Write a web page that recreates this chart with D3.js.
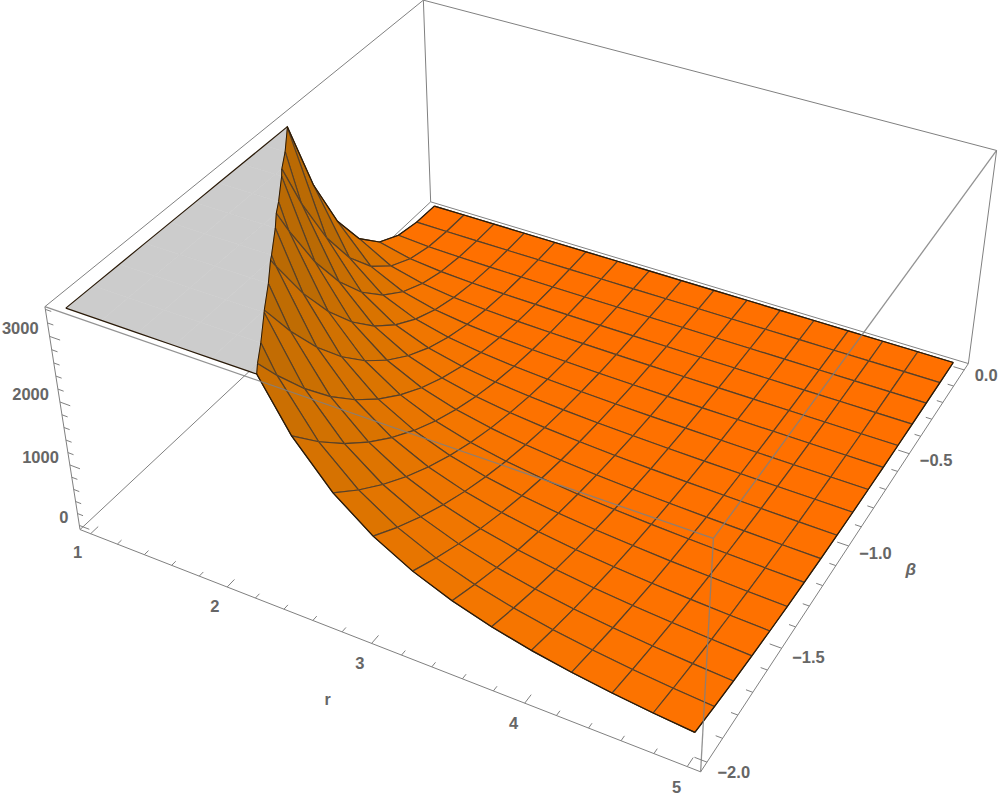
<!DOCTYPE html>
<html>
<head>
<meta charset="utf-8">
<script src="https://cdnjs.cloudflare.com/ajax/libs/d3/7.8.5/d3.min.js"></script>
<style>
  body { margin: 0; background: #fff; }
  text { font-family: "Liberation Sans", Arial, sans-serif; font-weight: bold; font-size: 16.5px; fill: #666; }
</style>
</head>
<body>
<script>
var svgWidth = 1000;
var svgHeight = 801;

// mesh positions
var rValues = [1, 1.25, 1.5, 1.75, 2, 2.25, 2.5, 2.75, 3, 3.25, 3.5, 3.75, 4, 4.25, 4.5, 4.75, 5];
var betaValues = [0, -0.125, -0.25, -0.375, -0.5, -0.625, -0.75, -0.875, -1, -1.125, -1.25, -1.375, -1.5, -1.625, -1.75, -1.875, -2];

// surface height, one row per beta, one column per r
var zValues = [
  [0, 0, 0, 0, 0, 0, 0, 0, 0, 0, 0, 0, 0, 0, 0, 0, 0],
  [10, 5, 3, 2, 1, 1, 1, 0, 0, 0, 0, 0, 0, 0, 0, 0, 0],
  [80, 41, 24, 15, 10, 7, 5, 4, 3, 2, 2, 1, 1, 1, 1, 1, 1],
  [269, 138, 80, 50, 33, 24, 18, 13, 10, 8, 6, 5, 4, 3, 3, 2, 2],
  [639, 328, 190, 119, 80, 56, 41, 30, 24, 19, 15, 13, 10, 8, 7, 6, 5],
  [1249, 640, 371, 233, 157, 110, 80, 61, 46, 37, 29, 24, 20, 17, 14, 11, 10],
  [2158, 1105, 640, 403, 269, 189, 138, 103, 80, 63, 50, 41, 33, 28, 24, 20, 18],
  [3427, 1755, 1016, 640, 428, 301, 219, 165, 127, 100, 80, 65, 53, 45, 38, 32, 27],
  [5116, 2619, 1516, 954, 639, 449, 328, 246, 189, 149, 119, 97, 80, 67, 56, 48, 41],
  [7284, 3729, 2158, 1359, 910, 639, 467, 350, 269, 212, 170, 138, 114, 95, 80, 68, 58],
  [9991, 5116, 2961, 1865, 1249, 877, 640, 480, 370, 291, 233, 190, 157, 131, 110, 93, 80],
  [13298, 6809, 3941, 2482, 1662, 1167, 851, 639, 493, 387, 310, 253, 208, 173, 146, 124, 106],
  [17265, 8840, 5117, 3222, 2158, 1516, 1105, 830, 639, 503, 403, 328, 269, 224, 189, 161, 138],
  [21950, 11239, 6505, 4097, 2744, 1926, 1405, 1055, 813, 640, 512, 417, 342, 286, 241, 205, 175],
  [27415, 14038, 8124, 5117, 3426, 2406, 1755, 1318, 1015, 799, 639, 520, 428, 357, 301, 256, 219],
  [33720, 17266, 9993, 6293, 4215, 2960, 2158, 1621, 1249, 982, 786, 640, 527, 440, 370, 314, 270],
  [40924, 20953, 12127, 7637, 5115, 3592, 2619, 1967, 1516, 1192, 954, 776, 639, 533, 449, 382, 328]
];

var rTicks = [1, 2, 3, 4, 5];
var betaTicks = [0, -0.5, -1, -1.5, -2];
var zTicks = [0, 1000, 2000, 3000];
var zClip = 3370;

// plot box, 2% padding around the data
var rScale = d3.scaleLinear().domain([0.92, 5.08]).range([0, 1]);
var betaScale = d3.scaleLinear().domain([-2.04, 0.04]).range([0, 1]);
var zScale = d3.scaleLinear().domain([-70, 3440]).range([0, 1]);

// where the box corners land on the page: u, v, w -> x, y
var boxCorners = [
  [0, 0, 0, 80, 529.5], [1, 0, 0, 700.7, 772], [1, 1, 0, 968.3, 363.3], [0, 1, 0, 430.7, 202],
  [0, 0, 1, 45, 306.7], [1, 0, 1, 713.3, 538.3], [1, 1, 1, 996.7, 150.7], [0, 1, 1, 423.3, 0]
];

// fit a perspective camera to the corners (least squares, 11 unknowns)
function fitCamera(corners) {
  var rows = [];
  var rhs = [];
  corners.forEach(function(c) {
    rows.push([c[0], c[1], c[2], 1, 0, 0, 0, 0, -c[3] * c[0], -c[3] * c[1], -c[3] * c[2]]);
    rhs.push(c[3]);
    rows.push([0, 0, 0, 0, c[0], c[1], c[2], 1, -c[4] * c[0], -c[4] * c[1], -c[4] * c[2]]);
    rhs.push(c[4]);
  });
  var n = 11;
  var m = d3.range(n).map(function(i) {
    var row = d3.range(n).map(function(j) { return d3.sum(rows, function(r) { return r[i] * r[j]; }); });
    row.push(d3.sum(rows, function(r, idx) { return r[i] * rhs[idx]; }));
    return row;
  });
  for (var i = 0; i < n; i++) {
    var piv = i;
    for (var k = i + 1; k < n; k++) if (Math.abs(m[k][i]) > Math.abs(m[piv][i])) piv = k;
    var tmp = m[i]; m[i] = m[piv]; m[piv] = tmp;
    for (var k2 = 0; k2 < n; k2++) {
      if (k2 === i) continue;
      var f = m[k2][i] / m[i][i];
      for (var j = i; j <= n; j++) m[k2][j] -= f * m[i][j];
    }
  }
  return d3.range(n).map(function(i) { return m[i][n] / m[i][i]; });
}

var cam = fitCamera(boxCorners);

function projectUnit(u, v, w) {
  var d = cam[8] * u + cam[9] * v + cam[10] * w + 1;
  return [(cam[0] * u + cam[1] * v + cam[2] * w + cam[3]) / d,
          (cam[4] * u + cam[5] * v + cam[6] * w + cam[7]) / d];
}

// p = [r, beta, z]
function project(p) {
  return projectUnit(rScale(p[0]), betaScale(p[1]), zScale(p[2]));
}

var line3 = d3.line();
function pathOf(pts, closed) {
  return line3(pts.map(project)) + (closed ? "Z" : "");
}

var svg = d3.select("body").append("svg")
  .attr("width", svgWidth)
  .attr("height", svgHeight);

var boxColor = "#808080";

function boxEdge(group, a, b, opacity, width) {
  var p = projectUnit(a[0], a[1], a[2]);
  var q = projectUnit(b[0], b[1], b[2]);
  group.append("line")
    .attr("x1", p[0]).attr("y1", p[1])
    .attr("x2", q[0]).attr("y2", q[1])
    .attr("stroke", boxColor)
    .attr("stroke-width", width)
    .attr("opacity", opacity);
}

// back edges go under the surface
var backGroup = svg.append("g");
boxEdge(backGroup, [0, 0, 0], [0, 1, 0], 1, 1);
boxEdge(backGroup, [0, 1, 0], [1, 1, 0], 1, 1);
boxEdge(backGroup, [0, 1, 0], [0, 1, 1], 1, 1);
boxEdge(backGroup, [0, 1, 1], [1, 1, 1], 1, 1);
boxEdge(backGroup, [0, 1, 1], [0, 0, 1], 1, 1);
boxEdge(backGroup, [1, 1, 1], [1, 1, 0], 1, 1);
boxEdge(backGroup, [0, 0, 0], [0, 0, 1], 1, 1);
boxEdge(backGroup, [0, 0, 0], [1, 0, 0], 1, 1);
boxEdge(backGroup, [1, 0, 0], [1, 1, 0], 1, 1);

// point where an edge crosses the clip plane, the surface is closer to
// log-linear than linear along a mesh edge
function crossing(p, q) {
  var t = Math.log(zClip / p[2]) / Math.log(q[2] / p[2]);
  return [p[0] + t * (q[0] - p[0]), p[1] + t * (q[1] - p[1]), zClip];
}

// keep the part of a polygon on one side of the clip plane
function clipPolygon(pts, keepBelow) {
  var out = [];
  pts.forEach(function(p, i) {
    var q = pts[(i + 1) % pts.length];
    var pIn = keepBelow ? p[2] <= zClip : p[2] >= zClip;
    var qIn = keepBelow ? q[2] <= zClip : q[2] >= zClip;
    if (pIn) out.push(p);
    if (pIn !== qIn) out.push(crossing(p, q));
  });
  return out;
}

function clipSegment(p, q) {
  if (p[2] > zClip && q[2] > zClip) return null;
  if (p[2] <= zClip && q[2] <= zClip) return [p, q];
  var c = crossing(p, q);
  return p[2] <= zClip ? [p, c] : [c, q];
}

var shade = d3.scaleLinear()
  .domain([0, 0.15, 0.4, 1, 3])
  .range(["#ff7000", "#fd7200", "#f47600", "#dc7400", "#ba6a04"])
  .clamp(true);

function cellSlope(j, k) {
  var z00 = zValues[k][j], z01 = zValues[k][j + 1], z10 = zValues[k + 1][j], z11 = zValues[k + 1][j + 1];
  var du = rScale(rValues[j + 1]) - rScale(rValues[j]);
  var dv = betaScale(betaValues[k]) - betaScale(betaValues[k + 1]);
  var sr = 0.4 * (zScale(z00 + z10) - zScale(z01 + z11)) / 2 / du;
  var sb = 0.4 * (zScale(z10 + z11) - zScale(z00 + z01)) / 2 / dv;
  return Math.sqrt(sr * sr + sb * sb);
}

var meshColor = "#55402a";
var edgeColor = "#2a1a08";

var topGroup = svg.append("g");
var cellGroup = svg.append("g");

// far corner first, near corner last
d3.range(rValues.length - 1).forEach(function(j) {
  d3.range(betaValues.length - 1).forEach(function(k) {
    var corners = [
      [rValues[j], betaValues[k], zValues[k][j]],
      [rValues[j + 1], betaValues[k], zValues[k][j + 1]],
      [rValues[j + 1], betaValues[k + 1], zValues[k + 1][j + 1]],
      [rValues[j], betaValues[k + 1], zValues[k + 1][j]]
    ];

    var above = clipPolygon(corners, false);
    if (above.length > 2) {
      var flat = above.map(function(p) { return [p[0], p[1], zClip]; });
      topGroup.append("path")
        .attr("d", pathOf(flat, true))
        .attr("fill", "#cccccc")
        .attr("stroke", "#cccccc")
        .attr("stroke-width", 0.6);
    }

    var below = clipPolygon(corners, true);
    if (below.length > 2) {
      var fill = shade(cellSlope(j, k));
      cellGroup.append("path")
        .attr("d", pathOf(below, true))
        .attr("fill", fill)
        .attr("stroke", fill)
        .attr("stroke-width", 0.5);

      corners.forEach(function(p, i) {
        var seg = clipSegment(p, corners[(i + 1) % 4]);
        if (seg) {
          cellGroup.append("path")
            .attr("d", pathOf(seg, false))
            .attr("fill", "none")
            .attr("stroke", meshColor)
            .attr("stroke-width", 1.15);
        }
      });

      // line where the surface meets the clip plane
      var onPlane = below.filter(function(p) { return p[2] === zClip; });
      if (onPlane.length === 2) {
        cellGroup.append("path")
          .attr("d", pathOf(onPlane, false))
          .attr("fill", "none")
          .attr("stroke", edgeColor)
          .attr("stroke-width", 1);
      }
    }
  });
});

// outer border of the surface, flattened onto the clip plane where it is cut
function borderPath(pts) {
  var out = [];
  pts.forEach(function(p, i) {
    if (i > 0) {
      var q = pts[i - 1];
      if ((p[2] > zClip) !== (q[2] > zClip)) out.push(crossing(q, p));
    }
    out.push([p[0], p[1], Math.min(p[2], zClip)]);
  });
  return pathOf(out, false);
}

var borderGroup = svg.append("g")
  .attr("fill", "none")
  .attr("stroke", edgeColor)
  .attr("stroke-width", 1.2);

var last = rValues.length - 1;
[
  rValues.map(function(r, j) { return [r, betaValues[0], zValues[0][j]]; }),
  rValues.map(function(r, j) { return [r, betaValues[last], zValues[last][j]]; }),
  betaValues.map(function(b, k) { return [rValues[0], b, zValues[k][0]]; }),
  betaValues.map(function(b, k) { return [rValues[last], b, zValues[k][last]]; })
].forEach(function(pts) {
  borderGroup.append("path").attr("d", borderPath(pts));
});

// front edges sit on top of the surface
var frontGroup = svg.append("g");
boxEdge(frontGroup, [0, 0, 1], [1, 0, 1], 0.85, 1.3);
boxEdge(frontGroup, [1, 0, 1], [1, 1, 1], 0.85, 1.3);
boxEdge(frontGroup, [1, 0, 1], [1, 0, 0], 0.85, 1.3);

// ticks
var tickGroup = svg.append("g").attr("stroke", boxColor).attr("stroke-width", 1);

function tick(a, b) {
  var p = project(a);
  var q = project(b);
  tickGroup.append("line").attr("x1", p[0]).attr("y1", p[1]).attr("x2", q[0]).attr("y2", q[1]);
}

var rBase = rScale.domain()[0], betaBase = betaScale.domain()[0], zBase = zScale.domain()[0];
var rSpan = 4.16, betaSpan = 2.08;

d3.range(1, 5.01, 0.2).forEach(function(r) {
  var major = Math.abs(r - Math.round(r)) < 1e-6;
  tick([r, betaBase, zBase], [r, betaBase + betaSpan * (major ? 0.018 : 0.01), zBase]);
});
d3.range(-2, 0.01, 0.1).forEach(function(b) {
  var major = Math.abs(b * 2 - Math.round(b * 2)) < 1e-6;
  tick([5.08, b, zBase], [5.08 - rSpan * (major ? 0.018 : 0.01), b, zBase]);
});
d3.range(0, 3401, 200).forEach(function(z) {
  var major = z % 1000 === 0;
  tick([rBase, betaBase, z], [rBase + rSpan * (major ? 0.018 : 0.01), betaBase, z]);
});

// tick labels
var labelGroup = svg.append("g");

rTicks.forEach(function(r) {
  var p = project([r, betaBase, zBase]);
  labelGroup.append("text")
    .attr("x", p[0] - 13 + (r - 1) * 0.6)
    .attr("y", p[1] + 24 + (r - 1) * 0.6)
    .attr("text-anchor", "middle")
    .text(r);
});

betaTicks.forEach(function(b) {
  var p = project([5.08, b, zBase]);
  labelGroup.append("text")
    .attr("x", p[0] + 10.5)
    .attr("y", p[1] + 11 - b * 2.5)
    .text(b === 0 ? "0.0" : "\u2212" + Math.abs(b).toFixed(1));
});

zTicks.forEach(function(z) {
  var p = project([rBase, betaBase, z]);
  labelGroup.append("text")
    .attr("x", p[0] - 11)
    .attr("y", p[1] - 2)
    .attr("text-anchor", "end")
    .text(z);
});

// axis titles
var rMid = project([3, betaBase, zBase]);
labelGroup.append("text")
  .attr("x", rMid[0] - 44)
  .attr("y", rMid[1] + 62)
  .attr("text-anchor", "middle")
  .style("font-size", "16px")
  .text("r");

var betaMid = project([5.08, -1, zBase]);
labelGroup.append("text")
  .attr("x", betaMid[0] + 62)
  .attr("y", betaMid[1] + 29)
  .attr("text-anchor", "middle")
  .style("font-style", "italic")
  .style("font-size", "17px")
  .text("\u03b2");
</script>
</body>
</html>
